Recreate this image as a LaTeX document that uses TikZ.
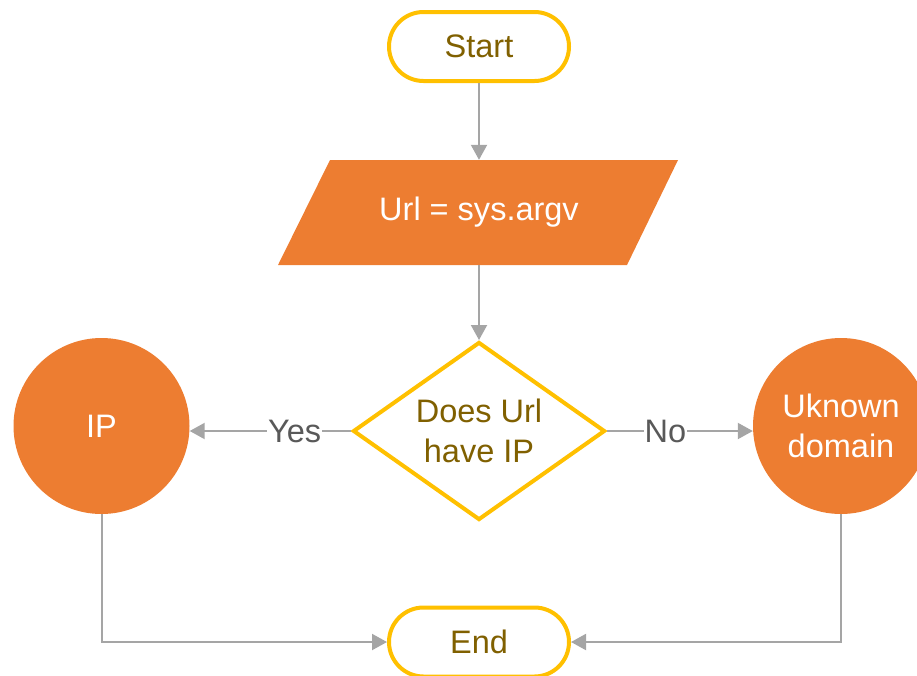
\documentclass[tikz,border=0pt]{standalone}
\usepackage{fontspec}
\setmainfont{Liberation Sans}
\usetikzlibrary{arrows.meta,shapes.geometric}
\definecolor{accorange}{HTML}{ED7D31}
\definecolor{accyellow}{HTML}{FFC000}
\definecolor{goldtext}{HTML}{806000}
\definecolor{connector}{HTML}{A5A5A5}
\definecolor{labeltext}{HTML}{595959}
\tikzset{
  terminal/.style={rectangle, rounded corners=34.5pt, draw=accyellow, line width=4pt, fill=white,
    minimum width=180pt, minimum height=69pt, text=goldtext, inner sep=0pt},
  decision/.style={diamond, aspect=1.416, draw=accyellow, line width=4pt, fill=white, text=goldtext,
    minimum width=252pt, minimum height=178pt, inner sep=0pt, align=center},
  outcome/.style={circle, fill=accorange, text=white, minimum size=176pt, inner sep=0pt, align=center},
  iobox/.style={rectangle, text=white, minimum width=350pt, minimum height=105pt, inner sep=0pt},
  conn/.style={draw=connector, line width=2pt, -{Triangle[length=15pt,width=16pt]}},
  edgelabel/.style={fill=white, text=labeltext, inner sep=1pt},
  every node/.style={font=\fontsize{32.5}{40}\selectfont}
}
\begin{document}
\begin{tikzpicture}[x=1pt, y=-1pt]
\useasboundingbox (0,0) rectangle (917,675);
% nodes
\node[terminal] (start) at (479,46.5) {Start};
\fill[accorange] (330,160) -- (678,160) -- (627,265) -- (278,265) -- cycle;
\node[iobox] (input) at (479,212.5) {Url = sys.argv};
\node[decision] (dec) at (479,431) {Does Url\\have IP};
\node[outcome] (ip) at (101.5,426) {IP};
\node[outcome] (unk) at (841,426) {Uknown\\domain};
\node[terminal] (end) at (479,642) {End};
% connectors
\draw[conn] (start.south) -- (input.north);
\draw[conn] (input.south) -- (dec.north);
\draw[conn] (dec.west) -- node[edgelabel, pos=0.35] (yes) {Yes} (dec.west -| ip.east);
\draw[conn] (dec.east) -- node[edgelabel, pos=0.4] (no) {No} (dec.east -| unk.west);
\draw[conn] (ip.south) |- (end.west);
\draw[conn] (unk.south) |- (end.east);
\end{tikzpicture}
\end{document}
